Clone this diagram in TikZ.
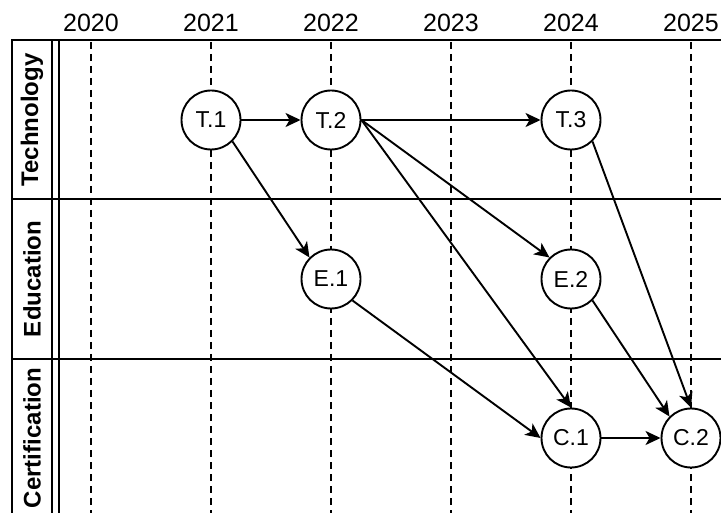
\documentclass[tikz,border=0pt]{standalone}
\usepackage{fontspec}
\setmainfont{Liberation Sans}
\usetikzlibrary{arrows.meta}
\begin{document}
\begin{tikzpicture}[x=1pt,y=-1pt,
  lw/.style={line width=1.9pt},
  ev/.style={circle,draw,lw,fill=white,minimum size=59pt,inner sep=0pt,font=\fontsize{23}{27}\selectfont},
  arr/.style={lw,-{Stealth[length=15pt,width=14pt,inset=4pt]}},
  yr/.style={font=\fontsize{25}{29}\selectfont},
  lanelabel/.style={font=\bfseries\fontsize{24}{28}\selectfont,rotate=90},
  gridline/.style={lw,dash pattern=on 7pt off 5pt}]
\useasboundingbox (0,0) rectangle (721,513);
\clip (0,0) rectangle (721,513);
% year labels and dashed grid
\foreach \yy [count=\i from 0] in {2020,2021,2022,2023,2024,2025}{
  \node[yr] (y\yy) at (91+120*\i,23) {\yy};
  \coordinate (g\yy) at (91+120*\i,42);
  \coordinate (h\yy) at (91+120*\i,520);
  \draw[gridline] (g\yy) -- (h\yy);
}
% lanes
\coordinate (tl) at (12,40);
\coordinate (tr) at (730,40);
\coordinate (bl) at (12,520);
\coordinate (m1l) at (12,199);
\coordinate (m1r) at (730,199);
\coordinate (m2l) at (12,359);
\coordinate (m2r) at (730,359);
\coordinate (d1t) at (52,40);
\coordinate (d1b) at (52,520);
\coordinate (d2t) at (59,40);
\coordinate (d2b) at (59,520);
\draw[lw] (bl) -- (tl) -- (tr);
\draw[lw] (m1l) -- (m1r);
\draw[lw] (m2l) -- (m2r);
\draw[lw] (d1t) -- (d1b);
\draw[lw] (d2t) -- (d2b);
\node[lanelabel] (lt) at (32,120) {Technology};
\node[lanelabel] (le) at (32,279) {Education};
\node[lanelabel] (lc) at (32,438) {Certification};
% events
\node[ev] (T1) at (211,120) {T.1};
\node[ev] (T2) at (331,120) {T.2};
\node[ev] (T3) at (571,120) {T.3};
\node[ev] (E1) at (331,279) {E.1};
\node[ev] (E2) at (571,279) {E.2};
\node[ev] (C1) at (571,438) {C.1};
\node[ev] (C2) at (691,438) {C.2};
% connectors
\draw[arr] (T1.east) -- (T2.west);
\draw[arr] (T2.east) -- (T3.west);
\draw[arr] (T1.south east) -- (E1.north west);
\draw[arr] (T2.east) -- (E2.north west);
\draw[arr] (T2.east) -- (C1.north);
\draw[arr] (T3.south east) -- (C2.north);
\draw[arr] (E1.south east) -- (C1.west);
\draw[arr] (E2.south east) -- (C2.north west);
\draw[arr] (C1.east) -- (C2.west);
\end{tikzpicture}
\end{document}
